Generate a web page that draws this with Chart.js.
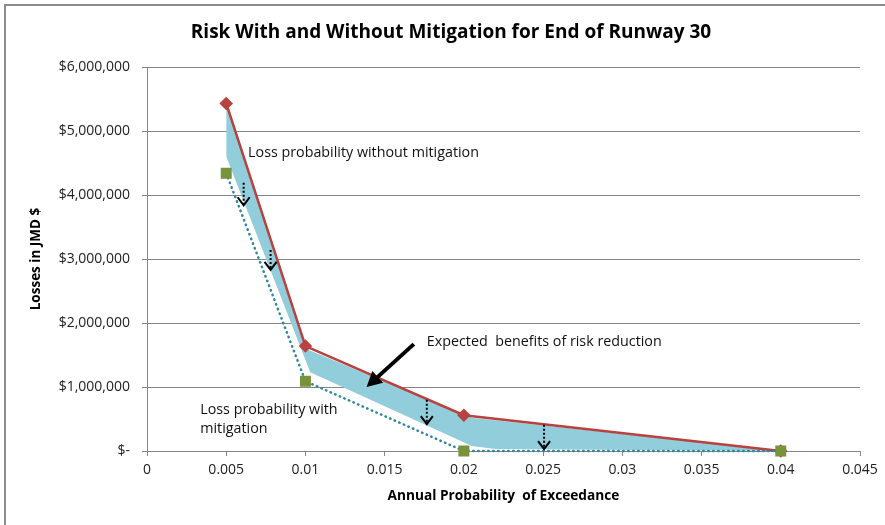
<!DOCTYPE html>
<html lang="en">
<head>
<meta charset="UTF-8">
<title>Risk With and Without Mitigation</title>
<style>
    body { margin: 0; background: #fff; }
    #frame {
        position: absolute;
        left: 4px; top: 4px;
        width: 900px; height: 540px;
        border-left: 2px solid #8c8c8c;
        border-top: 2px solid #8c8c8c;
    }
    #wrap { position: absolute; left: 0; top: 0; width: 885px; height: 525px; }
</style>
</head>
<body>
<div id="frame"></div>
<div id="wrap"><canvas id="riskChart" width="885" height="525"></canvas></div>

<script src="https://cdn.jsdelivr.net/npm/chart.js"></script>
<script>
    // annual probability of exceedance
    const probabilities = [0.005, 0.01, 0.02, 0.04];
    // losses in JMD $
    const lossWithout = [5430000, 1640000, 560000, 0];
    const lossWith = [4340000, 1090000, 0, 0];

    // shaded "benefit" band drawn between the two curves
    const bandX = [0.005, 0.0101, 0.0205, 0.04];
    const bandTop = [5480000, 1590000, 520000, 0];
    const bandBottomX = [0.005, 0.0103, 0.0205, 0.022, 0.04];
    const bandBottom = [4600000, 1230000, 80000, 30000, 0];

    const chartTitle = 'Risk With and Without Mitigation for End of Runway 30';
    const xTitle = 'Annual Probability  of Exceedance';
    const yTitle = 'Losses in JMD $';

    // small dotted arrows: x, from, to
    const dropArrows = [
        [0.0061, 4190000, 3840000],
        [0.0078, 3140000, 2830000],
        [0.01766, 800000, 420000],
        [0.02506, 410000, 30000]
    ];
    // big arrow: [x1, y1, x2, y2]
    const bigArrow = [0.01684, 1670000, 0.01386, 1000000];
    // notes: text, x, y (left / middle)
    const notes = [
        ['Loss probability without mitigation', 0.00638, 4650000],
        ['Expected  benefits of risk reduction', 0.01766, 1700000],
        ['Loss probability with', 0.00336, 640000],
        ['mitigation', 0.00336, 340000]
    ];

    const toPts = (xs, ys) => xs.map((x, i) => ({ x: x, y: ys[i] }));

    const font = '"Open Sans", "Liberation Sans", sans-serif';

    const overlay = {
        id: 'overlay',
        afterDatasetsDraw(chart) {
            const ctx = chart.ctx;
            const xs = chart.scales.x, ys = chart.scales.y;
            ctx.save();
            // title
            ctx.fillStyle = '#000';
            ctx.font = 'bold 19px ' + font;
            ctx.textAlign = 'center';
            ctx.textBaseline = 'middle';
            ctx.fillText(chartTitle, 451, 33);

            // notes
            ctx.font = '14.3px ' + font;
            ctx.textAlign = 'left';
            ctx.fillStyle = '#111';
            notes.forEach(n => {
                ctx.fillText(n[0], xs.getPixelForValue(n[1]), ys.getPixelForValue(n[2]));
            });

            // dotted drop arrows
            ctx.strokeStyle = '#000';
            dropArrows.forEach(a => {
                const px = xs.getPixelForValue(a[0]);
                const y1 = ys.getPixelForValue(a[1]);
                const y2 = ys.getPixelForValue(a[2]);
                ctx.lineWidth = 2;
                ctx.setLineDash([2, 2]);
                ctx.beginPath();
                ctx.moveTo(px, y1);
                ctx.lineTo(px, y2);
                ctx.stroke();
                ctx.setLineDash([]);
                ctx.lineWidth = 2;
                ctx.beginPath();
                ctx.moveTo(px - 6, y2 - 8);
                ctx.lineTo(px, y2);
                ctx.lineTo(px + 6, y2 - 8);
                ctx.stroke();
            });

            // big arrow
            const bx1 = xs.getPixelForValue(bigArrow[0]), by1 = ys.getPixelForValue(bigArrow[1]);
            const bx2 = xs.getPixelForValue(bigArrow[2]), by2 = ys.getPixelForValue(bigArrow[3]);
            const ang = Math.atan2(by2 - by1, bx2 - bx1);
            ctx.lineWidth = 4;
            ctx.beginPath();
            ctx.moveTo(bx1, by1);
            ctx.lineTo(bx2 - 8 * Math.cos(ang), by2 - 8 * Math.sin(ang));
            ctx.stroke();
            ctx.fillStyle = '#000';
            ctx.beginPath();
            ctx.moveTo(bx2, by2);
            ctx.lineTo(bx2 - 15 * Math.cos(ang) + 8 * Math.sin(ang), by2 - 15 * Math.sin(ang) - 8 * Math.cos(ang));
            ctx.lineTo(bx2 - 15 * Math.cos(ang) - 8 * Math.sin(ang), by2 - 15 * Math.sin(ang) + 8 * Math.cos(ang));
            ctx.closePath();
            ctx.fill();
            ctx.restore();
        }
    };

    const ctx = document.getElementById('riskChart').getContext('2d');
    const chart = new Chart(ctx, {
        type: 'scatter',
        data: {
            datasets: [
                {
                    label: 'band bottom',
                    data: toPts(bandBottomX, bandBottom),
                    showLine: true,
                    borderWidth: 0,
                    borderColor: 'rgba(0,0,0,0)',
                    pointRadius: 0,
                    order: 5
                },
                {
                    label: 'band top',
                    data: toPts(bandX, bandTop),
                    showLine: true,
                    borderWidth: 0,
                    borderColor: 'rgba(0,0,0,0)',
                    backgroundColor: '#92cddc',
                    fill: '-1',
                    pointRadius: 0,
                    order: 4
                },
                {
                    label: 'With mitigation',
                    data: toPts(probabilities, lossWith),
                    showLine: true,
                    clip: false,
                    borderColor: '#31859c',
                    borderWidth: 2.5,
                    borderDash: [0.5, 4.5],
                    borderCapStyle: 'round',
                    pointStyle: 'rect',
                    pointRadius: 6,
                    pointBackgroundColor: '#77933c',
                    pointBorderColor: '#77933c',
                    order: 1
                },
                {
                    label: 'Without mitigation',
                    data: toPts(probabilities, lossWithout),
                    showLine: true,
                    clip: false,
                    borderColor: '#b9423f',
                    borderWidth: 2.5,
                    pointStyle: 'rectRot',
                    pointRadius: 5,
                    pointBackgroundColor: '#b9423f',
                    pointBorderColor: '#b9423f',
                    order: 2
                }
            ]
        },
        options: {
            responsive: false,
            animation: false,
            layout: { padding: { left: 0, top: 67, right: 25, bottom: 0 } },
            plugins: {
                legend: { display: false },
                tooltip: { enabled: false },
                title: { display: false }
            },
            scales: {
                x: {
                    type: 'linear',
                    min: 0,
                    max: 0.045,
                    afterFit: s => { s.height = 74; },
                    ticks: {
                        stepSize: 0.005,
                        color: '#222',
                        padding: 6,
                        font: { family: font, size: 14 },
                        callback: v => String(Math.round(v * 1000) / 1000)
                    },
                    grid: { drawOnChartArea: false, tickLength: 5, color: '#868686' },
                    border: { color: '#868686' },
                    title: {
                        display: true,
                        text: xTitle,
                        color: '#000',
                        font: { family: font, size: 13.7, weight: 'bold' },
                        padding: { top: 0, bottom: 21 }
                    }
                },
                y: {
                    min: 0,
                    max: 6000000,
                    afterFit: s => { s.width = 147; },
                    ticks: {
                        stepSize: 1000000,
                        color: '#222',
                        padding: 12,
                        font: { family: font, size: 14 },
                        callback: v => v === 0 ? '$-' : '$' + v.toLocaleString('en-US')
                    },
                    grid: { color: '#868686', tickLength: 5 },
                    border: { color: '#868686' },
                    title: {
                        display: true,
                        text: yTitle,
                        color: '#000',
                        font: { family: font, size: 13.5, weight: 'bold' },
                        padding: { top: 28, bottom: 0 }
                    }
                }
            }
        },
        plugins: [overlay]
    });
</script>
</body>
</html>
